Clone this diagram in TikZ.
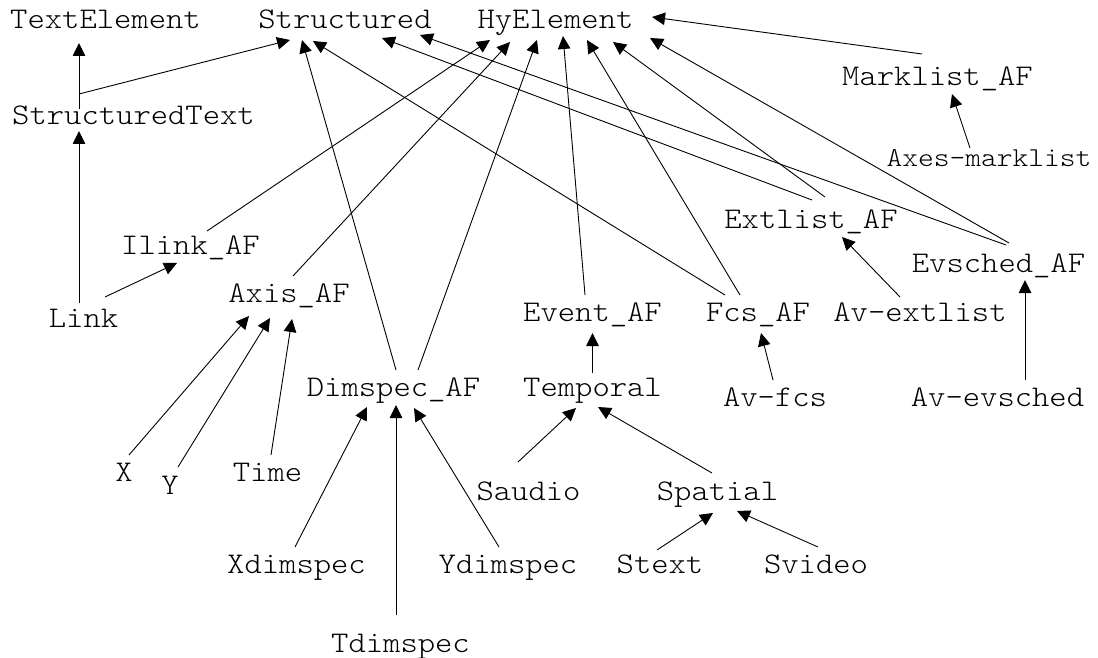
\documentclass[tikz,border=0pt]{standalone}
\usepackage{fontspec}
\newfontfamily\classfont{lmmonolt10-regular.otf}[FakeStretch=1.1]
\usepackage{tikz}
\usetikzlibrary{arrows.meta}

\begin{document}
\begin{tikzpicture}[x=1pt,y=-1pt]
  \tikzset{class style/.style = {inner sep = 0pt, outer sep = 0pt, anchor = base,
      font = \classfont\fontsize{30}{30}\selectfont},
    inherit/.style = {line width = 0.9pt, -{Triangle[length=13pt,width=12.5pt]}}}
  \useasboundingbox (0,0) rectangle (1098,658);
  % classes
  \node[class style] (txtel) at (105.5,29) {TextElement};
  \node[class style] (struct) at (345,29) {Structured};
  \node[class style] (hy) at (555.5,29) {HyElement};
  \node[class style] (marklist) at (937.5,86) {Marklist\_AF};
  \node[class style, font = \classfont\fontsize{27.3}{27.3}\selectfont] (axesml) at (989,167) {Axes-marklist};
  \node[class style] (strtext) at (133.5,125) {StructuredText};
  \node[class style] (extlist) at (811,228) {Extlist\_AF};
  \node[class style] (ilink) at (190.5,254) {Ilink\_AF};
  \node[class style] (evsched) at (998.5,272) {Evsched\_AF};
  \node[class style] (link) at (83.5,327) {Link};
  \node[class style] (axis) at (289,302) {Axis\_AF};
  \node[class style] (event) at (592.5,321) {Event\_AF};
  \node[class style] (fcs) at (758,321) {Fcs\_AF};
  \node[class style] (avext) at (920,321) {Av-extlist};
  \node[class style] (dimspec) at (393.5,396) {Dimspec\_AF};
  \node[class style] (temporal) at (592.5,396) {Temporal};
  \node[class style] (avfcs) at (775,406) {Av-fcs};
  \node[class style] (avevsched) at (997.5,406) {Av-evsched};
  \node[class style] (x) at (124,481) {X};
  \node[class style] (y) at (170,494) {Y};
  \node[class style] (time) at (267.5,481) {Time};
  \node[class style] (saudio) at (528.5,500) {Saudio};
  \node[class style] (spatial) at (717.5,500) {Spatial};
  \node[class style] (xdim) at (296.5,573) {Xdimspec};
  \node[class style] (ydim) at (508,573) {Ydimspec};
  \node[class style] (stext) at (660,573) {Stext};
  \node[class style] (svideo) at (816,573) {Svideo};
  \node[class style] (tdim) at (400.5,652) {Tdimspec};
  % inheritance
  \coordinate (strup) at ([shift={(-54.5,-31)}]strtext.base);
  \draw[line width = 0.9pt] ([shift={(-54.5,-16)}]strtext.base) -- (strup);
  \draw[inherit] (strup) -- ([shift={(-26.5,14)}]txtel.base);
  \draw[inherit] (strup) -- ([shift={(-55,11)}]struct.base);
  \draw[inherit] ([shift={(-4.5,-24)}]link.base) -- ([shift={(-54.5,6)}]strtext.base);
  \draw[inherit] ([shift={(21.5,-30)}]link.base) -- ([shift={(-13.5,9)}]ilink.base);
  \draw[inherit] ([shift={(16.5,-23)}]ilink.base) -- ([shift={(-65.5,11)}]hy.base);
  \draw[inherit] ([shift={(4,-26)}]axis.base) -- ([shift={(-45.5,13)}]hy.base);
  \draw[inherit] ([shift={(5,-26)}]x.base) -- ([shift={(-40,14)}]axis.base);
  \draw[inherit] ([shift={(8,-27)}]y.base) -- ([shift={(-19,16)}]axis.base);
  \draw[inherit] ([shift={(3.5,-26)}]time.base) -- ([shift={(3,17)}]axis.base);
  \draw[inherit] ([shift={(2.5,-26)}]dimspec.base) -- ([shift={(-43,11)}]struct.base);
  \draw[inherit] ([shift={(24.5,-26)}]dimspec.base) -- ([shift={(-18.5,11)}]hy.base);
  \draw[inherit] ([shift={(-1.5,-26)}]xdim.base) -- ([shift={(-26.5,11)}]dimspec.base);
  \draw[inherit] ([shift={(-4.5,-37)}]tdim.base) -- ([shift={(2.5,9)}]dimspec.base);
  \draw[inherit] ([shift={(-9,-26)}]ydim.base) -- ([shift={(20.5,12)}]dimspec.base);
  \draw[inherit] ([shift={(-7.5,-26)}]event.base) -- ([shift={(7.5,7)}]hy.base);
  \draw[inherit] ([shift={(-33,-26)}]fcs.base) -- ([shift={(-32,12)}]struct.base);
  \draw[inherit] ([shift={(-18,-26)}]fcs.base) -- ([shift={(31.5,11)}]hy.base);
  \draw[inherit] ([shift={(0,-23)}]temporal.base) -- ([shift={(0,12)}]event.base);
  \draw[inherit] ([shift={(-10.5,-38)}]saudio.base) -- ([shift={(-16.5,12)}]temporal.base);
  \draw[inherit] ([shift={(-5.5,-27)}]spatial.base) -- ([shift={(5.5,11)}]temporal.base);
  \draw[inherit] ([shift={(-3,-23)}]stext.base) -- ([shift={(-4.5,13)}]spatial.base);
  \draw[inherit] ([shift={(2,-26)}]svideo.base) -- ([shift={(19.5,11)}]spatial.base);
  \draw[inherit] ([shift={(-2,-26)}]avfcs.base) -- ([shift={(3,12)}]fcs.base);
  \draw[inherit] ([shift={(1,-28)}]extlist.base) -- ([shift={(37,9)}]struct.base);
  \draw[inherit] ([shift={(14,-31)}]extlist.base) -- ([shift={(57.5,13)}]hy.base);
  \draw[inherit] ([shift={(7.5,-27)}]evsched.base) -- ([shift={(75,6)}]struct.base);
  \draw[inherit] ([shift={(10.5,-29)}]evsched.base) -- ([shift={(94.5,9)}]hy.base);
  \draw[inherit] ([shift={(-15.5,-32)}]marklist.base) -- ([shift={(96.5,-12)}]hy.base);
  \draw[inherit] ([shift={(-19,-19)}]axesml.base) -- ([shift={(14.5,8)}]marklist.base);
  \draw[inherit] ([shift={(-20,-24)}]avext.base) -- ([shift={(31,9)}]extlist.base);
  \draw[inherit] ([shift={(27.5,-26)}]avevsched.base) -- ([shift={(26.5,8)}]evsched.base);
\end{tikzpicture}
\end{document}
